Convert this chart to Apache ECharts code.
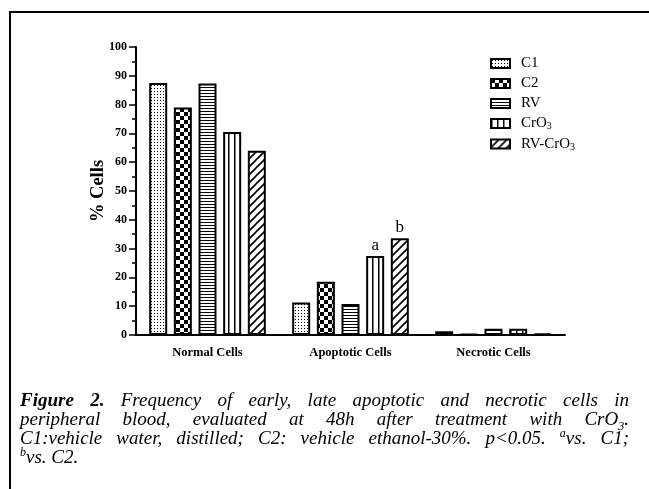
<!DOCTYPE html>
<html>
<head>
<meta charset="utf-8">
<script src="https://cdn.jsdelivr.net/npm/echarts@6/dist/echarts.min.js"></script>
<style>
  body{margin:0;background:#fff;}
  #wrap{position:relative;width:649px;height:489px;overflow:hidden;}
  #frame{position:absolute;left:9px;top:11px;width:700px;height:600px;border-top:2px solid #000;border-left:2px solid #000;}
  #main{position:absolute;left:0;top:0;width:649px;height:489px;}
  #caption{position:absolute;left:20px;top:390px;width:609px;font-family:'Liberation Serif',serif;font-style:italic;font-size:19px;line-height:19px;color:#000;}
  #caption div{text-align:justify;text-align-last:justify;white-space:nowrap;}
  #caption div.last{text-align:left;text-align-last:left;}
  #caption b{font-weight:bold;}
  #caption sup{font-size:12px;line-height:0;}
  #caption sub{font-size:12px;line-height:0;}
</style>
</head>
<body>
<div id="wrap">
  <div id="frame"></div>
  <div id="main"></div>
  <div id="caption">
    <div><b>Figure 2.</b> Frequency of early, late apoptotic and necrotic cells in</div>
    <div>peripheral blood, evaluated at 48h after treatment with CrO<sub>3</sub>.</div>
    <div>C1:vehicle water, distilled; C2: vehicle ethanol-30%. p&lt;0.05. <sup>a</sup>vs. C1;</div>
    <div class="last"><sup>b</sup>vs. C2.</div>
  </div>
</div>
<script>
  // 数据
  var categories = ['Normal Cells', 'Apoptotic Cells', 'Necrotic Cells']
  var groupNames = ['C1', 'C2', 'RV', 'CrO3', 'RV-CrO3']
  var c1Values = [87.5, 11.3, 1.3]
  var c2Values = [79, 18.5, 0.4]
  var rvValues = [87.3, 10.8, 2.2]
  var cro3Values = [70.5, 27.4, 2.2]
  var rvcro3Values = [64, 33.6, 0.5]
  var marks = {3: ['', 'a', ''], 4: ['', 'b', '']}

  // 图案填充
  function makePattern(kind) {
    var c = document.createElement('canvas')
    var ctx = c.getContext('2d')
    if (kind == 'dots') {
      c.width = 3; c.height = 3
      ctx.fillStyle = '#fff'; ctx.fillRect(0, 0, 3, 3)
      ctx.fillStyle = '#000'; ctx.fillRect(1, 1, 1, 1)
    } else if (kind == 'checker') {
      c.width = 8; c.height = 8
      ctx.fillStyle = '#fff'; ctx.fillRect(0, 0, 8, 8)
      ctx.fillStyle = '#000'; ctx.fillRect(0, 0, 4, 4); ctx.fillRect(4, 4, 4, 4)
    } else if (kind == 'hline') {
      c.width = 4; c.height = 3
      ctx.fillStyle = '#fff'; ctx.fillRect(0, 0, 4, 3)
      ctx.fillStyle = '#000'; ctx.fillRect(0, 0, 4, 1)
    } else if (kind == 'vline') {
      c.width = 6; c.height = 4
      ctx.fillStyle = '#fff'; ctx.fillRect(0, 0, 6, 4)
      ctx.fillStyle = '#000'; ctx.fillRect(0, 0, 1.5, 4)
    } else {
      c.width = 8; c.height = 8
      ctx.fillStyle = '#fff'; ctx.fillRect(0, 0, 8, 8)
      ctx.strokeStyle = '#000'; ctx.lineWidth = 1.6
      ctx.beginPath()
      ctx.moveTo(-2, 10); ctx.lineTo(10, -2)
      ctx.moveTo(-6, 6); ctx.lineTo(6, -6)
      ctx.moveTo(2, 14); ctx.lineTo(14, 2)
      ctx.stroke()
    }
    return {image: c, repeat: 'repeat'}
  }

  var patterns = ['dots', 'checker', 'hline', 'vline', 'diag']
  var allValues = [c1Values, c2Values, rvValues, cro3Values, rvcro3Values]

  var series = groupNames.map(function (name, i) {
    return {
      name: name,
      type: 'bar',
      barWidth: 18,
      barGap: '37%',
      data: allValues[i].map(function (v, j) {
        var item = {value: v}
        if (marks[i] && marks[i][j]) {
          item.label = {show: true, position: 'top', distance: 2, formatter: marks[i][j],
            fontFamily: 'Liberation Serif', fontSize: 17, color: '#000'}
        }
        return item
      }),
      itemStyle: {color: makePattern(patterns[i]), borderColor: '#000', borderWidth: 2},
      emphasis: {disabled: true}
    }
  })

  var chart = echarts.init(document.getElementById('main'))
  chart.setOption({
    animation: false,
    grid: {left: 136, right: 84, top: 47, bottom: 154},
    legend: {
      orient: 'vertical',
      left: 485,
      top: 51,
      itemWidth: 19,
      itemHeight: 9,
      itemGap: 5,
      icon: 'rect',
      itemStyle: {borderColor: '#000', borderWidth: 2},
      formatter: function (n) {
        return n.replace('O3', 'O{sub|3}')
      },
      textStyle: {
        fontFamily: 'Liberation Serif', fontSize: 15, lineHeight: 15, color: '#000', padding: [0, 0, 0, 6],
        rich: {sub: {fontFamily: 'Liberation Serif', fontSize: 10, color: '#000', padding: [6, 0, 0, 0]}}
      },
      data: groupNames
    },
    xAxis: {
      type: 'category',
      data: categories,
      axisLine: {lineStyle: {color: '#000', width: 2}},
      axisTick: {alignWithLabel: true, length: 5, lineStyle: {color: '#000', width: 1.5}},
      axisLabel: {fontFamily: 'Liberation Serif', fontWeight: 'bold', fontSize: 12.5, color: '#000', margin: 11}
    },
    yAxis: {
      type: 'value',
      min: 0,
      max: 100,
      interval: 10,
      name: '% Cells',
      nameLocation: 'middle',
      nameGap: 28,
      nameMoveOverlap: false,
      nameTextStyle: {fontFamily: 'Liberation Serif', fontWeight: 'bold', fontSize: 18.5, color: '#000'},
      axisLine: {show: true, lineStyle: {color: '#000', width: 2}},
      axisTick: {show: true, length: 7, lineStyle: {color: '#000', width: 1.5}},
      minorTick: {show: true, splitNumber: 2, length: 4, lineStyle: {color: '#000', width: 1.5}},
      splitLine: {show: false},
      axisLabel: {fontFamily: 'Liberation Serif', fontWeight: 'bold', fontSize: 12, color: '#000', margin: 9}
    },
    series: series
  })
</script>
</body>
</html>
